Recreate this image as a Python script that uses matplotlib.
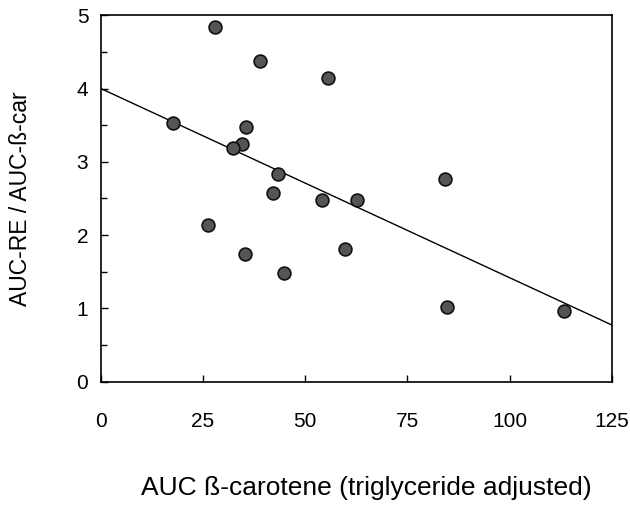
import matplotlib.pyplot as plt
from matplotlib.ticker import MultipleLocator

plt.rcParams['font.family'] = ['Liberation Sans', 'DejaVu Sans']

# AUC beta-carotene (triglyceride adjusted) vs AUC-RE / AUC-beta-car
auc_bcar = [27.9, 38.9, 55.5, 17.6, 35.5, 34.5, 32.3, 43.3, 42.1,
            54.0, 62.8, 84.1, 26.2, 35.2, 44.7, 59.7, 84.6, 113.4]
auc_ratio = [4.84, 4.38, 4.15, 3.53, 3.48, 3.24, 3.19, 2.83, 2.57,
             2.48, 2.48, 2.76, 2.14, 1.74, 1.49, 1.81, 1.02, 0.96]

# regression line
intercept = 4.0
slope = -0.0258
line_x = [0, 125]
line_y = [intercept + slope * v for v in line_x]

fig = plt.figure(figsize=(6.3, 5.07), dpi=100)
ax = fig.add_axes([0.160, 0.247, 0.811, 0.723])

ax.plot(line_x, line_y, color='black', lw=1.0, zorder=2)
ax.scatter(auc_bcar, auc_ratio, s=85, facecolor='#555555', edgecolor='#111111',
           linewidth=1.2, zorder=3)

ax.set_xlim(0, 125)
ax.set_ylim(0, 5)
ax.xaxis.set_major_locator(MultipleLocator(25))
ax.yaxis.set_major_locator(MultipleLocator(1))
ax.yaxis.set_minor_locator(MultipleLocator(0.5))
ax.tick_params(direction='in', length=5, width=1, labelsize=15)
ax.tick_params(axis='y', which='minor', direction='in', length=4, width=1)
ax.tick_params(axis='x', pad=22)
ax.tick_params(axis='y', pad=9)
for s in ax.spines.values():
    s.set_linewidth(1.2)

ax.set_xlabel('AUC ß-carotene (triglyceride adjusted)', fontsize=19, labelpad=32,
              x=0.52)
ax.set_ylabel('AUC-RE / AUC-ß-car', fontsize=16.5, labelpad=32)

fig.savefig('out.png', dpi=100)
